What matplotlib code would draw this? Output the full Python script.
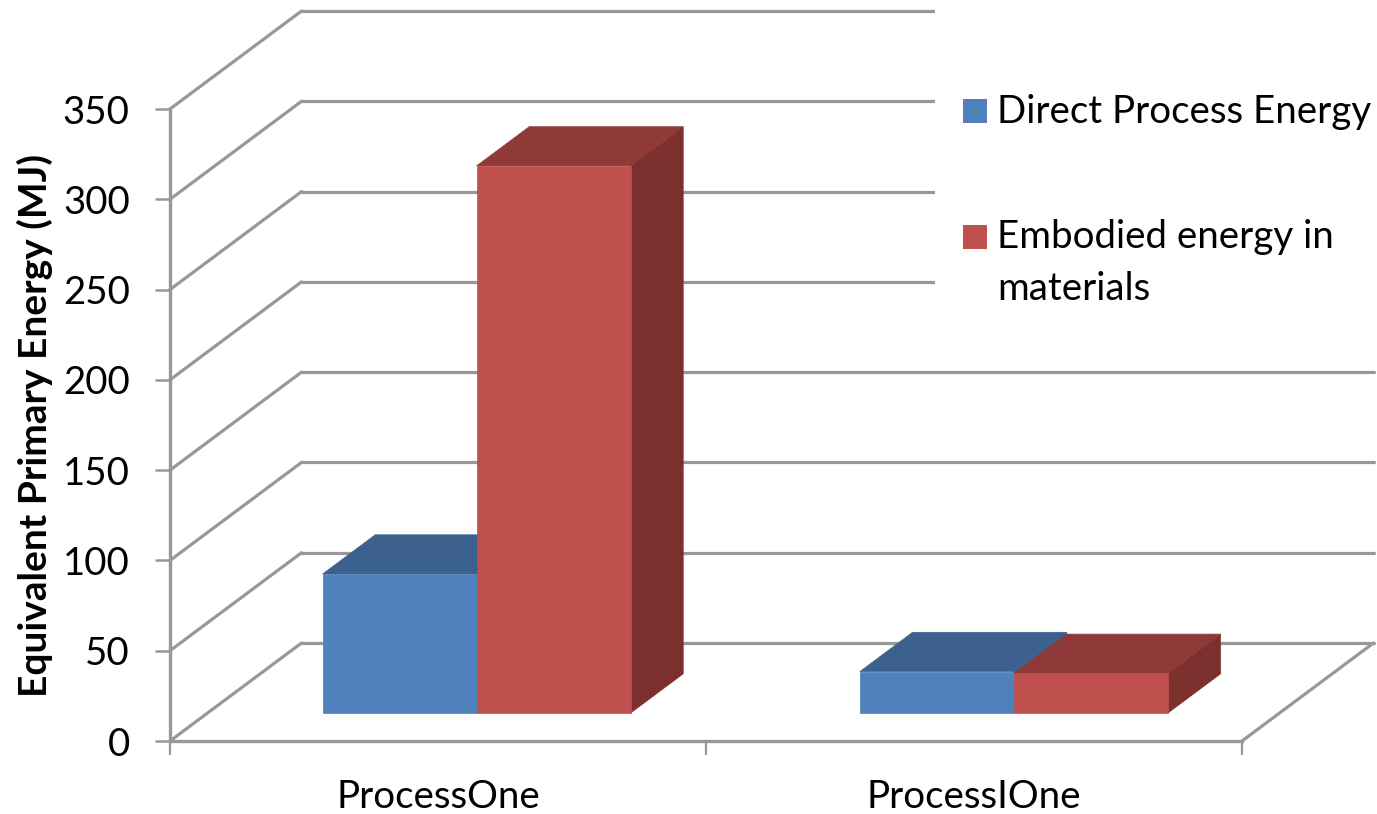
import numpy as np
import matplotlib
matplotlib.use("Agg")
import matplotlib.pyplot as plt
from matplotlib.patches import Polygon, Rectangle

categories = ["ProcessOne", "ProcessIOne"]
direct_energy = [77, 23]
embodied_energy = [303, 22]
y_ticks = [0, 50, 100, 150, 200, 250, 300, 350]

W, H = 1377, 814
LINE = "#989898"

plt.rcParams['font.family'] = ['Lato', 'DejaVu Sans']

fig = plt.figure(figsize=(W / 100, H / 100), dpi=100)
ax = fig.add_axes([170 / W, 1 - 741 / H, (1242 - 170) / W, (741 - 109) / H])
ax.set_xlim(0, 2)
ax.set_ylim(0, 350)
ax.patch.set_visible(False)

# oblique projection: depth 0 is the front plane, depth 1 the back wall
DEPTH_X = 0.2455
DEPTH_Y = 54.3


def project(x, y, depth):
    return x + depth * DEPTH_X, y + depth * DEPTH_Y


def wall_line(x0, y0, d0, x1, y1, d1, zorder=1):
    p0 = project(x0, y0, d0)
    p1 = project(x1, y1, d1)
    ax.plot([p0[0], p1[0]], [p0[1], p1[1]], color=LINE, lw=2.3, zorder=zorder,
            clip_on=False, solid_capstyle='round')


# gridlines on the left wall and back wall
for v in y_ticks:
    wall_line(0, v, 0, 0, v, 1)
    wall_line(0, v, 1, 2, v, 1)
wall_line(2, 0, 0, 2, 0, 1)


def bar3d(x0, width, value, front, top, side, zorder):
    d0, d1 = 0.285, 0.685
    x1 = x0 + width
    face = [project(x0, 0, d0), project(x1, 0, d0), project(x1, value, d0), project(x0, value, d0)]
    lid = [project(x0, value, d0), project(x1, value, d0), project(x1, value, d1), project(x0, value, d1)]
    right = [project(x1, 0, d0), project(x1, 0, d1), project(x1, value, d1), project(x1, value, d0)]
    for pts, c in [(right, side), (lid, top), (face, front)]:
        ax.add_patch(Polygon(pts, closed=True, facecolor=c, edgecolor=c, lw=0.5,
                             zorder=zorder, clip_on=False))


BAR_W = 0.2873
bar_centers = [0.502, 1.5045]
for i in range(len(categories)):
    bar3d(bar_centers[i] - BAR_W, BAR_W, direct_energy[i], "#4F81BD", "#3C618E", "#3A5F8C", 3)
    bar3d(bar_centers[i], BAR_W, embodied_energy[i], "#C0504D", "#8F3A38", "#7C302E", 4)

# axes frame and ticks
for name in ['top', 'right']:
    ax.spines[name].set_visible(False)
for name in ['left', 'bottom']:
    ax.spines[name].set_color(LINE)
    ax.spines[name].set_linewidth(2.4)
    ax.spines[name].set_zorder(2)

ax.set_yticks(y_ticks)
ax.set_yticklabels([str(v) for v in y_ticks], fontsize=27.7)
ax.tick_params(axis='y', length=11, width=1.8, color=LINE, pad=18)
ax.set_xticks([0, 1, 2])
ax.set_xticklabels([])
ax.tick_params(axis='x', which='major', length=10, width=1.6, color=LINE)
ax.set_xticks(np.arange(len(categories)) + 0.5, minor=True)
ax.set_xticklabels(categories, minor=True, fontsize=27.7)
ax.tick_params(axis='x', which='minor', length=0, pad=27)

fig.text(35 / W, 1 - 425 / H, "Equivalent Primary Energy (MJ)", rotation=90,
         fontsize=28, fontweight='bold', ha='center', va='center')

# legend sits on a white panel that hides the gridlines behind it
fig.add_artist(Rectangle((935 / W, 1 - 322 / H), (W - 935) / W, 322 / H, transform=fig.transFigure,
                         facecolor='white', edgecolor='none', zorder=5))
for top_px, color in [(99, "#4F81BD"), (225, "#C0504D")]:
    fig.add_artist(Rectangle((963 / W, 1 - (top_px + 24) / H), 24 / W, 24 / H, transform=fig.transFigure,
                             facecolor=color, edgecolor='none', zorder=6))
for base_px, label in [(123, "Direct Process Energy"), (248, "Embodied energy in"), (300, "materials")]:
    fig.text(997 / W, 1 - base_px / H, label, fontsize=27.7, ha='left', va='baseline', zorder=7)

fig.savefig("out.png", dpi=100, facecolor='white')
